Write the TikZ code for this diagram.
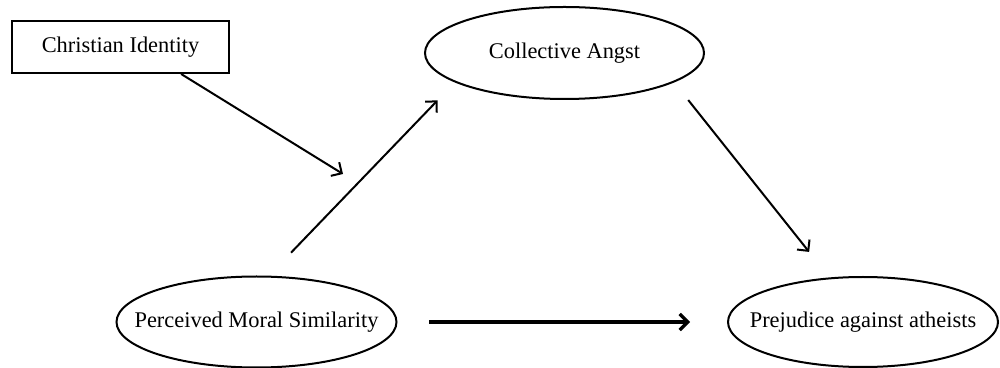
\documentclass[tikz,border=0pt]{standalone}
\usepackage{fontspec}
\setmainfont{Liberation Serif}
\usepackage{tikz}
\usetikzlibrary{calc, arrows.meta, shapes}

\begin{document}
\begin{tikzpicture}[x=0.5pt, y=-0.5pt, >={Straight Barb[length=4pt, width=8pt]}]
		\tikzstyle{box} = [draw=black, line width=1pt, rectangle, inner sep=0pt, minimum width=108.5pt, minimum height=26pt, font=\fontsize{11.2}{13}\selectfont]
		\tikzstyle{oval} = [draw=black, line width=1pt, ellipse, inner sep=0pt, font=\fontsize{11.2}{13}\selectfont]
		\tikzstyle{link} = [line width=1pt]
		
		\useasboundingbox (0, 0) rectangle (1000, 368);
		
		\node[box] 	at (120.5, 47) 		(ci) 	{Christian Identity};
		\node[oval, minimum width=139.5pt, minimum height=46pt] 	at (564.5, 53) 	(ca) 	{\makebox[0pt]{Collective Angst}};
		\node[oval, minimum width=140pt, minimum height=45.5pt] 	at (256.5, 322) 	(pms) 	{\makebox[0pt]{Perceived Moral Similarity}};
		\node[oval, minimum width=135pt, minimum height=45pt] 	at (863, 322) 	(prej) 	{\makebox[0pt]{Prejudice against atheists}};
		\coordinate (mod) at (343, 174);
		
		\path[->, link]
		(ci.-24)	edge	(mod)
		(pms.75)	edge[shorten <=16pt, shorten >=12.5pt]	(ca.195)
		(ca.-15)	edge[shorten <=11.3pt, shorten >=16.3pt]	(prej.127)
		(pms.east)	edge[line width=1.6pt, shorten <=15.8pt, shorten >=18.5pt]	(prej.west);
		\end{tikzpicture}
\end{document}
